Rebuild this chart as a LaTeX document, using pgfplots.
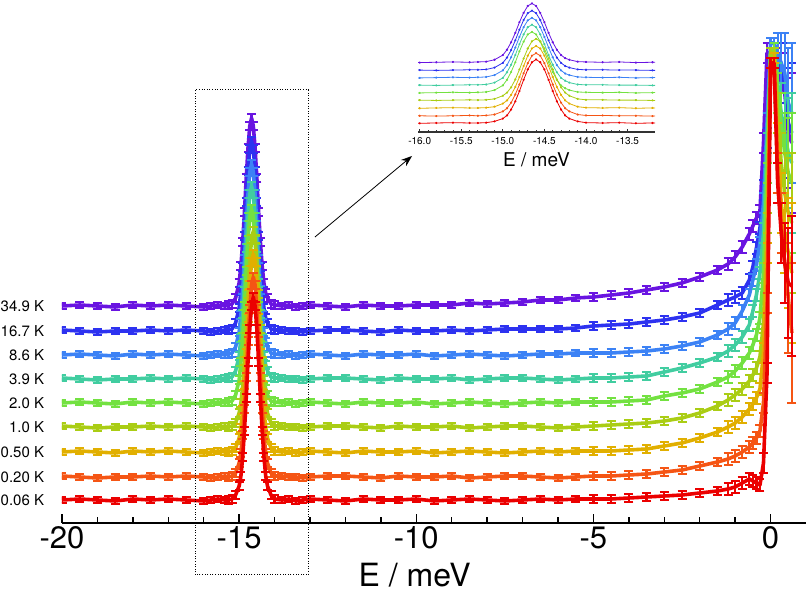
\documentclass[border=0pt]{standalone}
\usepackage{pgfplots}
\usepackage{pgfplotstable}
\pgfplotsset{compat=1.18}
\usetikzlibrary{arrows.meta}
\usepackage{fontspec}
\setmainfont{TeX Gyre Heros}
\definecolor{cr}{RGB}{235,0,0}
\definecolor{co}{RGB}{245,85,20}
\definecolor{cy}{RGB}{225,175,0}
\definecolor{cyg}{RGB}{170,205,20}
\definecolor{cg}{RGB}{115,225,65}
\definecolor{ct}{RGB}{65,205,160}
\definecolor{clb}{RGB}{60,130,245}
\definecolor{cb}{RGB}{45,50,240}
\definecolor{cp}{RGB}{105,20,225}
\pgfplotstableread{
x      e   r   o   yl  yg  g   t   lb  b   p
-20    3   23  47  71  97  120 145 168 193 217
-19.5  3   24  46  72  96  121 144 169 192 218
-19    3   23  45  71  95  120 143 168 191 217
-18.5  3   22  46  70  96  119 144 167 192 216
-18    3   24  46  72  96  121 144 169 192 218
-17.5  3   23  47  71  97  120 145 168 193 217
-17    3   24  46  72  96  121 144 169 192 218
-16.5  3   23  47  71  97  120 145 168 193 217
-16    3   22  46  70  96  119 144 167 192 216
-15.8  3   23  45  71  95  120 143 168 191 217
-15.6  3   24  46  72  96  121 144 169 192 218
-15.4  3   23  47  71  97  120 145 168 193 217
-15.3  4   23  46  71  96  121 145 169 193 218
-15.2  4   24  47  72  97  122 146 170 194 219
-15.1  4   28  50  75  100 128 152 176 200 225
-15.0  4   37  60  85  110 143 167 191 215 240
-14.95 4   47  70  95  120 161 185 208 232 257
-14.9  4   66  88  113 137 186 209 233 256 281
-14.85 4   92  114 138 162 217 240 264 287 311
-14.8  4   125 146 170 194 252 275 298 321 345
-14.75 4   161 182 205 229 283 306 329 352 375
-14.7  4   194 214 238 261 306 329 351 374 397
-14.65 4   217 238 261 284 314 337 359 382 405
-14.6  4   226 246 269 292 306 329 351 374 397
-14.55 4   217 238 261 284 283 306 329 352 375
-14.5  4   194 214 238 261 252 275 298 321 345
-14.45 4   161 182 205 229 217 240 264 287 311
-14.4  4   125 146 170 194 186 209 233 256 281
-14.35 4   92  114 138 162 161 185 208 232 257
-14.3  4   66  88  113 137 143 167 191 215 240
-14.25 4   47  70  95  120 134 158 181 205 230
-14.2  4   37  60  85  110 128 152 176 200 225
-14.1  4   28  50  75  100 122 146 170 194 219
-14.0  4   24  47  72  97  121 145 169 193 218
-13.8  3   23  47  71  97  120 145 168 193 217
-13.6  3   24  46  72  96  121 144 169 192 218
-13.4  3   22  46  70  96  119 144 167 192 216
-13.2  3   23  45  71  95  120 143 168 191 217
-13.0  3   24  46  72  96  121 144 169 192 218
-12.5  3   23  47  71  97  120 145 168 193 217
-12    3   22  47  70  97  119 145 167 193 216
-11.5  3   24  46  72  96  121 144 169 192 218
-11    3   23  45  71  95  120 143 168 191 217
-10.5  3   23  47  71  97  120 145 168 193 217
-10    3   24  46  72  96  121 144 169 192 218
-9.5   3   22  46  70  96  119 144 167 192 218
-9     3   23  47  71  97  120 145 168 193 218
-8.5   3   24  45  72  95  121 143 169 192 220
-8     3   23  46  71  96  120 144 168 193 219
-7.5   3   22  47  70  97  119 145 167 194 220
-7     3   23  47  71  97  120 145 168 194 221
-6.5   3   24  46  72  96  121 144 169 194 223
-6     3   23  45  71  95  120 143 169 194 223
-5.5   3   24  46  72  96  121 144 170 195 225
-5     4   24  47  72  97  121 145 170 197 226
-4.5   4   24  47  72  98  121 145 170 198 228
-4     4   25  48  73  99  122 146 171 199 230
-3.5   4   26  49  74  100 123 147 172 201 233
-3     4   27  51  77  102 127 151 174 203 236
-2.5   4   28  53  80  105 130 155 177 206 240
-2     4   30  57  85  110 134 160 181 210 246
-1.5   4   32  61  91  117 141 166 188 218 253
-1.2   6   34  64  96  123 146 172 194 223 259
-1.0   6   36  67  100 128 152 178 200 226 266
-0.8   6   40  71  106 134 160 186 212 230 276
-0.6   6   44  76  114 142 170 198 228 243 289
-0.5   6   42  80  119 148 178 212 243 256 297
-0.4   6   40  85  125 155 188 228 258 275 305
-0.3   6   38  92  134 166 205 250 280 295 312
-0.2   10  60  120 170 200 250 290 320 333 380
-0.1   10  150 220 270 300 350 380 400 385 470
0.0    5   460 460 460 470 470 470 480 470 470
0.1    5   460 460 465 470 475 470 480 470 465
0.2    20  340 350 380 410 430 440 470 460 455
0.3    30  290 300 320 360 400 410 460 450 440
0.4    40  260 260 290 330 370 390 450 440 430
0.5    55  240 225 270 310 350 370 420 400 390
0.6    70  237 190 250 300 340 360 410 390 380
}\data
\pgfplotsset{
  mainplot/.style={color=#1, line width=3.6pt, mark=none, line join=round,
    error bars/.cd, y dir=both, y explicit,
    error bar style={line width=2.2pt, color=#1},
    error mark=-, error mark options={rotate=90, line width=2.2pt, mark size=4.5pt, color=#1}},
  insetplot/.style={color=#1, line width=0.8pt, mark=*, mark size=0.75pt, line join=round}
}
\begin{document}
\begin{tikzpicture}
\begin{axis}[name=main, at={(0,0)}, anchor=south west,
  scale only axis, width=744pt, height=523pt,
  xmin=-20, xmax=1.0, ymin=0, ymax=523,
  axis x line*=bottom, axis y line=none,
  xtick={-20,-15,-10,-5,0}, xticklabels={-20,-15,-10,-5,0},
  minor x tick num=4, tick align=inside,
  major tick length=9pt, minor tick length=6pt,
  tick style={line width=1.5pt, black},
  axis line style={line width=2.5pt, black},
  xticklabel style={font=\fontsize{31}{31}\selectfont},
  xlabel={E / meV},
  xlabel style={font=\fontsize{32}{32}\selectfont, at={(axis description cs:0.474,0)}, anchor=center, yshift=-52pt},
  clip mode=individual]
\addplot[mainplot=cp]  table[x=x, y=p,  y error=e] {\data};
\addplot[mainplot=cb]  table[x=x, y=b,  y error=e] {\data};
\addplot[mainplot=clb] table[x=x, y=lb, y error=e] {\data};
\addplot[mainplot=ct]  table[x=x, y=t,  y error=e] {\data};
\addplot[mainplot=cg]  table[x=x, y=g,  y error=e] {\data};
\addplot[mainplot=cyg] table[x=x, y=yg, y error=e] {\data};
\addplot[mainplot=cy]  table[x=x, y=yl, y error=e] {\data};
\addplot[mainplot=co]  table[x=x, y=o,  y error=e] {\data};
\addplot[mainplot=cr]  table[x=x, y=r,  y error=e] {\data};
\foreach \lab/\yy in {0.06 K/23, 0.20 K/46, 0.50 K/71, 1.0 K/96, 2.0 K/120, 3.9 K/144, 8.6 K/168, 16.7 K/192, 34.9 K/217} {
  \edef\temp{\noexpand\node[anchor=east, font=\noexpand\fontsize{15}{15}\noexpand\selectfont, inner sep=0pt] at (axis cs:-20.5,\yy) {\lab};}
  \temp
}
\draw[line width=1pt, dash pattern=on 1pt off 1.6pt] (axis cs:-16.24,-52) rectangle (axis cs:-13.05,433);
\draw[line width=0.8pt, -{Stealth[length=11pt,width=8pt]}] (axis cs:-12.86,286) -- (axis cs:-10.12,367);
\end{axis}
\begin{axis}[name=inset, at={(356pt,391pt)}, anchor=south west,
  scale only axis, width=237pt, height=132pt,
  xmin=-16.02, xmax=-13.17, ymin=-5.8, ymax=416,
  axis x line*=bottom, axis y line=none,
  xtick={-16,-15.5,-15,-14.5,-14,-13.5},
  xticklabels={-16.0,-15.5,-15.0,-14.5,-14.0,-13.5},
  minor x tick num=4, tick align=inside,
  major tick length=3pt, minor tick length=2pt,
  tick style={line width=0.8pt, black!80},
  axis line style={line width=1.2pt, black!80},
  xticklabel style={font=\fontsize{10}{10}\selectfont, yshift=-2pt},
  xlabel={E / meV},
  xlabel style={font=\fontsize{19}{19}\selectfont, at={(axis description cs:0.5,0)}, anchor=center, yshift=-28pt},
  clip=true]
\addplot[insetplot=cp]  table[x=x, y=p]  {\data};
\addplot[insetplot=cb]  table[x=x, y=b]  {\data};
\addplot[insetplot=clb] table[x=x, y=lb] {\data};
\addplot[insetplot=ct]  table[x=x, y=t]  {\data};
\addplot[insetplot=cg]  table[x=x, y=g]  {\data};
\addplot[insetplot=cyg] table[x=x, y=yg] {\data};
\addplot[insetplot=cy]  table[x=x, y=yl] {\data};
\addplot[insetplot=co]  table[x=x, y=o]  {\data};
\addplot[insetplot=cr]  table[x=x, y=r]  {\data};
\end{axis}
\pgfresetboundingbox
\path (-62pt,-70pt) rectangle (748pt,523pt);
\end{tikzpicture}
\end{document}
